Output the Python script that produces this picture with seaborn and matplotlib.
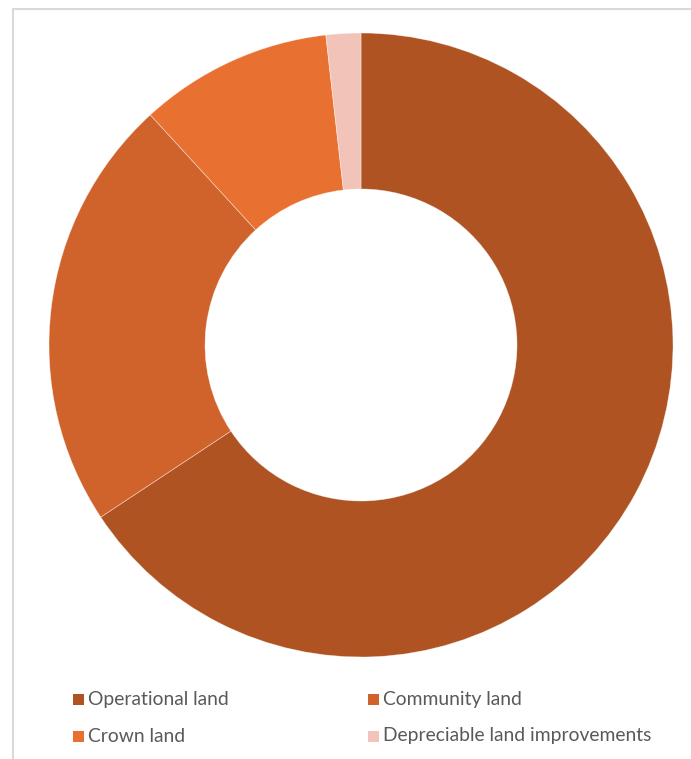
import matplotlib
matplotlib.use("Agg")
import matplotlib.pyplot as plt
from matplotlib.patches import Rectangle
from matplotlib.lines import Line2D
import seaborn as sns

categories = ["Operational land", "Community land", "Crown land", "Depreciable land improvements"]
values = [65.7, 22.5, 10.0, 1.8]
colors = ["#AE5321", "#D0622B", "#E87132", "#F2C4B9"]

sns.set_theme(style="white")
plt.rcParams["font.family"] = ["Lato", "DejaVu Sans"]

W, H = 691, 759
fig = plt.figure(figsize=(W / 100, H / 100), dpi=100)
fig.patch.set_facecolor("white")

# chart frame (left and top edges visible)
fig.add_artist(Line2D([12.5 / W, 12.5 / W], [0, 1 - 9 / H], transform=fig.transFigure,
                      color="#D9D9D9", lw=1.5))
fig.add_artist(Line2D([12.5 / W, 1], [1 - 9 / H, 1 - 9 / H], transform=fig.transFigure,
                      color="#D9D9D9", lw=1.5))

cx, cy, r = 361, 345, 312
ax = fig.add_axes([(cx - r) / W, (H - cy - r) / H, 2 * r / W, 2 * r / H])
ax.pie(values, colors=colors, startangle=90, counterclock=False, radius=1,
       wedgeprops=dict(width=0.5, edgecolor=(1, 1, 1, 0.5), linewidth=0.5))
ax.set_xlim(-1, 1)
ax.set_ylim(-1, 1)
ax.set_aspect("equal")
ax.axis("off")

# legend, two columns
col_x = [73, 368]
row_y = [699, 736]
sq = 11
for i, (lab, col) in enumerate(zip(categories, colors)):
    x = col_x[i % 2]
    y = row_y[i // 2]
    fig.add_artist(Rectangle((x / W, (H - y - sq / 2) / H), sq / W, sq / H,
                             transform=fig.transFigure, facecolor=col, edgecolor="none"))
    fig.text((x + 15) / W, (H - y) / H, lab, ha="left", va="center",
             fontsize=13.9, color="#595959")

fig.savefig("out.png", dpi=100, facecolor="white")
